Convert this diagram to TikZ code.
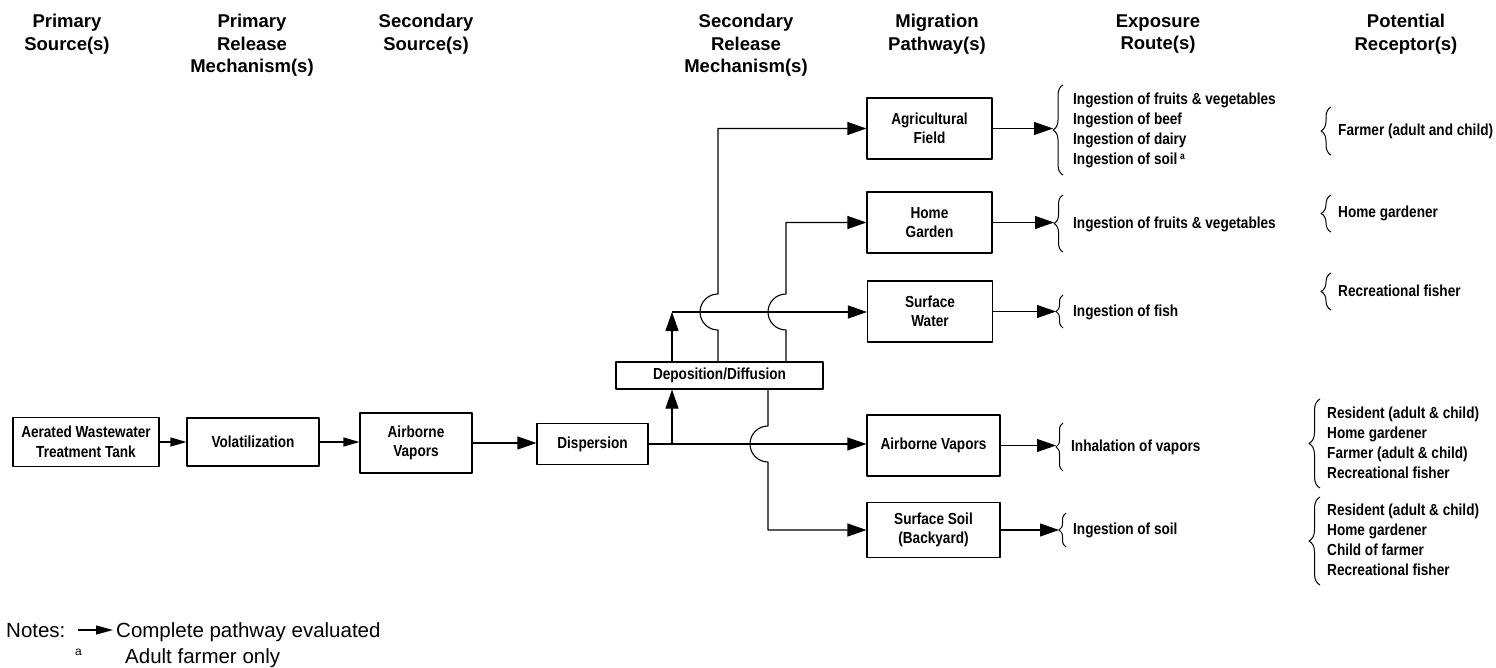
\documentclass[tikz,border=0pt]{standalone}
\usepackage{fontspec}
\setmainfont{Liberation Sans}
\newfontfamily\narrowfont[FakeStretch=0.85]{Liberation Sans}
\usetikzlibrary{arrows.meta,decorations.pathreplacing}

\tikzset{
  box/.style={draw, line width=1.1pt, inner sep=0pt, align=center,
    font=\narrowfont\bfseries\fontsize{16}{19.5}\selectfont},
  head/.style={align=center, inner sep=0pt, font=\bfseries\fontsize{18.5}{22.5}\selectfont},
  route/.style={anchor=west, align=left, inner sep=0pt,
    font=\narrowfont\bfseries\fontsize{16}{20}\selectfont},
  note/.style={anchor=base west, inner sep=0pt, font=\fontsize{20.5}{24}\selectfont},
  curly/.style={decorate, decoration={brace, amplitude=#1}, line width=1pt},
  curly/.default=9pt,
  flow/.style={line width=1.1pt, -{Triangle[length=19pt, width=13pt]}},
  small flow/.style={line width=1.1pt, -{Triangle[length=16pt, width=9pt]}},
}

\begin{document}
\begin{tikzpicture}[x=1pt, y=-1pt, line join=round]
\useasboundingbox (0,0) rectangle (1496,668);

% column heads
\node[head] (hps)  at (67,34)    {Primary\\Source(s)};
\node[head] (hprm) at (252,45.5) {Primary\\Release\\Mechanism(s)};
\node[head] (hss)  at (426,34)   {Secondary\\Source(s)};
\node[head] (hsrm) at (746,45.5) {Secondary\\Release\\Mechanism(s)};
\node[head] (hmp)  at (937,34)   {Migration\\Pathway(s)};
\node[head] (her)  at (1158,34)  {Exposure\\Route(s)};
\node[head] (hpr)  at (1406,34)  {Potential\\Receptor(s)};

% sources and release mechanisms
\node[box, minimum width=146pt, minimum height=49pt] (tank)   at (86,442)    {Aerated Wastewater\\Treatment Tank};
\node[box, minimum width=132pt, minimum height=48pt] (volat)  at (253,442)   {Volatilization};
\node[box, minimum width=112pt, minimum height=60pt] (vapors) at (416,443)   {Airborne\\Vapors};
\node[box, minimum width=111pt, minimum height=41pt] (disp)   at (592.5,444) {Dispersion};
\node[box, minimum width=207pt, minimum height=27pt] (depo)   at (719.5,375.5) {Deposition/Diffusion};

% migration pathways
\node[box, minimum width=125pt, minimum height=61pt] (agri)   at (929.5,128.5) {Agricultural\\Field};
\node[box, minimum width=125pt, minimum height=61pt] (garden) at (929.5,222.5) {Home\\Garden};
\node[box, minimum width=125pt, minimum height=61pt] (water)  at (930,311.5)   {Surface\\Water};
\node[box, minimum width=133pt, minimum height=61pt] (airv)   at (933.5,445.5) {Airborne Vapors};
\node[box, minimum width=133pt, minimum height=55pt] (soil)   at (933.5,530)   {Surface Soil\\(Backyard)};

\draw[small flow] (tank.east) -- (volat.west);
\draw[small flow] (volat.east) -- (volat.east -| vapors.west);
\draw[flow] (vapors.east) -- (vapors.east -| disp.west);

% secondary release
\coordinate (split) at (672,444);
\coordinate (fork) at (672,312);
\coordinate (ja) at (718,312);
\coordinate (jg) at (786,312);
\coordinate (js) at (768,444);
\draw[flow] (disp.east) -- (disp.east -| airv.west);
\draw[flow] (split) -- (split |- depo.south);
\draw[flow] (depo.north -| fork) -- (fork);
\draw[flow] (fork) -- (fork -| water.west);
\draw[flow] (depo.north -| ja) -- ([yshift=-18pt]ja) arc[start angle=90, end angle=270, radius=18]
  -- (ja |- agri.west) -- (agri.west);
\draw[flow] (depo.north -| jg) -- ([yshift=-18pt]jg) arc[start angle=90, end angle=270, radius=18]
  -- (jg |- garden.west) -- (garden.west);
\draw[flow] (depo.south -| js) -- ([yshift=18pt]js) arc[start angle=270, end angle=90, radius=18]
  -- (js |- soil.west) -- (soil.west);

% exposure routes
\coordinate (t1) at (1053,130);
\coordinate (t2) at (1054,223.5);
\coordinate (t3) at (1056,311.5);
\coordinate (t4) at (1056,447);
\coordinate (t5) at (1059,530);
\draw[flow] (agri.east) -- (agri.east -| t1);
\draw[flow] (garden.east) -- (garden.east -| t2);
\draw[flow] (water.east) -- (water.east -| t3);
\draw[flow] (airv.east) -- (airv.east -| t4);
\draw[flow] (soil.east) -- (soil.east -| t5);

\draw[curly=10pt] (1063,175) -- (1063,85);
\draw[curly] (1063,252) -- (1063,195);
\draw[curly=7pt] (1063,328) -- (1063,295);
\draw[curly=7pt] (1063,471) -- (1063,423);
\draw[curly=7pt] (1066,547) -- (1066,513);

\node[route] (r1) at (1073,130) {Ingestion of fruits \& vegetables\\Ingestion of beef\\Ingestion of dairy\\Ingestion of soil\,\raisebox{5pt}{\fontsize{10}{10}\selectfont a}};
\node[route] (r2) at (1073,224) {Ingestion of fruits \& vegetables};
\node[route] (r3) at (1073,312) {Ingestion of fish};
\node[route] (r4) at (1071,447) {Inhalation of vapors};
\node[route] (r5) at (1073,530) {Ingestion of soil};

% receptors
\draw[curly=10pt] (1331,155) -- (1331,107);
\draw[curly=10pt] (1331,232) -- (1331,195);
\draw[curly=10pt] (1331,310) -- (1331,273);
\draw[curly=11pt] (1320,488) -- (1320,399);
\draw[curly=11pt] (1320,585) -- (1320,497);

\node[route] (p1) at (1338,131) {Farmer (adult and child)};
\node[route] (p2) at (1338,213) {Home gardener};
\node[route] (p3) at (1338,291) {Recreational fisher};
\node[route] (p4) at (1327,443) {Resident (adult \& child)\\Home gardener\\Farmer (adult \& child)\\Recreational fisher};
\node[route] (p5) at (1327,540) {Resident (adult \& child)\\Home gardener\\Child of farmer\\Recreational fisher};

% notes
\node[note] (notes) at (6,637) {Notes:};
\node[note] (complete) at (116,637) {Complete pathway evaluated};
\draw[line width=1.1pt, -{Triangle[length=17pt, width=9pt]}] ([xshift=12pt,yshift=7pt]notes.base east) -- ([xshift=-3pt,yshift=7pt]complete.base west);
\node[note, font=\fontsize{12}{12}\selectfont] (fn) at (75,655) {a};
\node[note] (adult) at (125,663) {Adult farmer only};
\end{tikzpicture}
\end{document}
